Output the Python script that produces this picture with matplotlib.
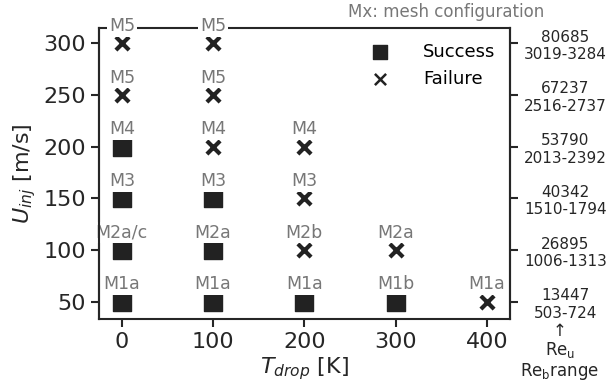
import matplotlib
matplotlib.use("Agg")
import matplotlib.pyplot as plt

# data
t_drop = [0, 0, 0, 0, 0, 0,
          100, 100, 100, 100, 100, 100,
          200, 200, 200, 200,
          300, 300,
          400]
u_inj = [50, 100, 150, 200, 250, 300,
         50, 100, 150, 200, 250, 300,
         50, 100, 150, 200,
         50, 100,
         50]
success = [1, 1, 1, 1, 0, 0,
           1, 1, 1, 0, 0, 0,
           1, 0, 0, 0,
           1, 0,
           0]
mesh = ["M1a", "M2a/c", "M3", "M4", "M5", "M5",
        "M1a", "M2a", "M3", "M4", "M5", "M5",
        "M1a", "M2b", "M3", "M4",
        "M1b", "M2a",
        "M1a"]
u_ticks = [50, 100, 150, 200, 250, 300]
re_u = ["13447", "26895", "40342", "53790", "67237", "80685"]
re_b = ["503-724", "1006-1313", "1510-1794", "2013-2392", "2516-2737", "3019-3284"]

dark = "#222222"
plt.rcParams["font.family"] = "DejaVu Sans"
plt.rcParams["axes.linewidth"] = 1.5
plt.rcParams["axes.edgecolor"] = "#262626"

fig = plt.figure(figsize=(6.06, 3.90), dpi=100)
ax = fig.add_axes([99/606, 1-319/390, (509.7-99)/606, (319-28.3)/390])

xs_ok = [t for t, s in zip(t_drop, success) if s]
ys_ok = [u for u, s in zip(u_inj, success) if s]
xs_ko = [t for t, s in zip(t_drop, success) if not s]
ys_ko = [u for u, s in zip(u_inj, success) if not s]
ax.scatter(xs_ok, ys_ok, marker="s", s=150, color=dark, label="Success", zorder=4)
ax.scatter(xs_ko, ys_ko, marker="x", s=90, color=dark, linewidths=3, label="Failure", zorder=4)

for t, u, m in zip(t_drop, u_inj, mesh):
    ax.annotate(m, (t, u), xytext=(0, 12.5), textcoords="offset points",
                ha="center", va="center", fontsize=12.5, color="#777777",
                annotation_clip=False, zorder=5,
                bbox=dict(boxstyle="square,pad=0.1", fc="white", ec="none"))

ax.set_xlim(-25, 425)
ax.set_ylim(33.3, 314.5)
ax.set_xticks([0, 100, 200, 300, 400])
ax.set_yticks(u_ticks)
ax.tick_params(axis="both", labelsize=16, length=6, width=1.5, color="#262626",
               labelcolor="#262626")
ax.set_xlabel("$T_{drop}$ [K]", fontsize=16, color="#262626", labelpad=2)
ax.set_ylabel("$U_{inj}$ [m/s]", fontsize=16, color="#262626", labelpad=4)

leg = ax.legend(loc="upper right", frameon=False, fontsize=13, handletextpad=1.4,
                borderaxespad=0.4, bbox_to_anchor=(1.0, 1.0), markerscale=0.85)
leg.legend_handles[1].set_linewidths(1.8)

ax2 = ax.twinx()
ax2.set_ylim(ax.get_ylim())
ax2.set_yticks(u_ticks)
ax2.set_yticklabels([a + "\n" + b for a, b in zip(re_u, re_b)], ha="center",
                    fontsize=11, color="#262626")
ax2.tick_params(axis="y", length=6, width=1.5, color="#262626", pad=34)
for side in ["top", "bottom"]:
    ax2.spines[side].set_visible(False)

fig.text(446/606, 1-12/390, "Mx: mesh configuration", ha="center", va="center",
         fontsize=12, color="#777777")
fig.text(560/606, 1-352/390, "\u2191\n$\\mathregular{Re_u}$\n$\\mathregular{Re_b}$range",
         ha="center", va="center", fontsize=12, color="#262626", linespacing=1.0)

fig.savefig("out.png", dpi=100)
